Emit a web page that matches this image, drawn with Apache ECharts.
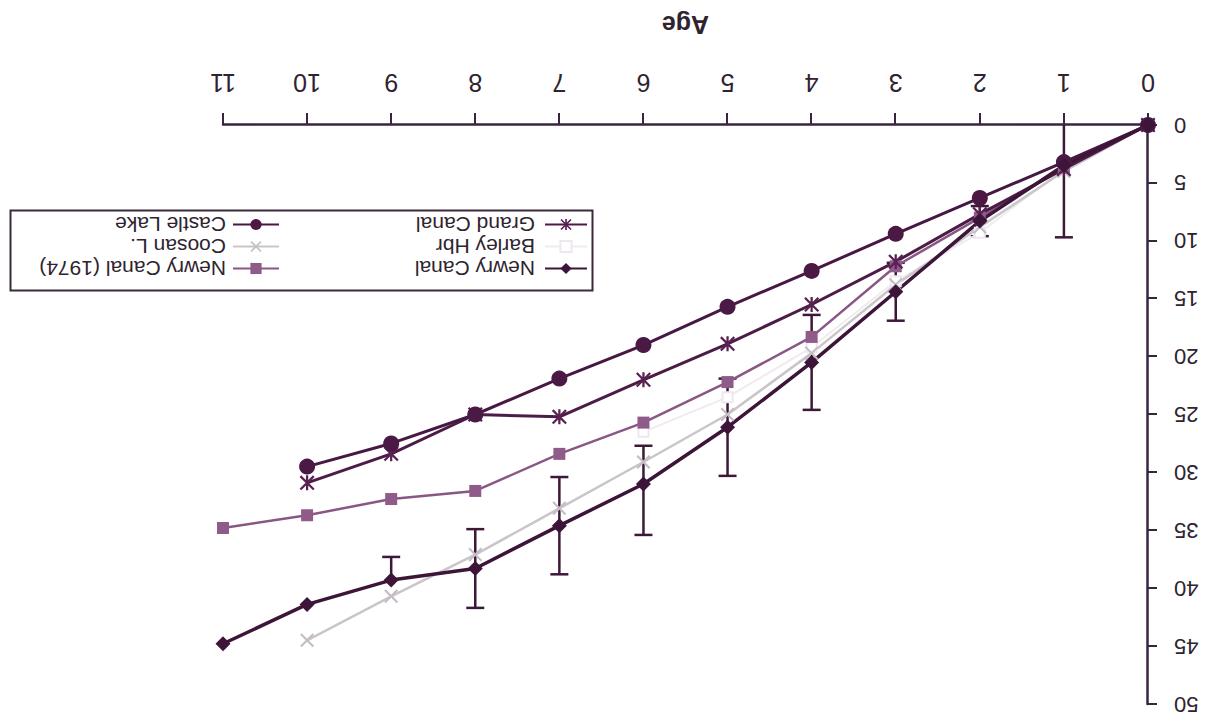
<!DOCTYPE html>
<html>
<head>
<meta charset="utf-8">
<script src="https://cdn.jsdelivr.net/npm/echarts@6/dist/echarts.min.js"></script>
<style>
  html, body { margin: 0; padding: 0; background: #ffffff; overflow: hidden; }
  #main { width: 1211px; height: 724px; transform: rotate(180deg); transform-origin: 50% 50%; }
</style>
</head>
<body>
<div id="main"></div>
<script>
// ---- data ----
const ages = [0, 1, 2, 3, 4, 5, 6, 7, 8, 9, 10, 11];
const xTicks = [0, 1, 2, 3, 4, 5, 6, 7, 8, 9, 10, 11];
const yTicks = [0, 5, 10, 15, 20, 25, 30, 35, 40, 45, 50];

const newryCanal     = [0, 3.5, 8.3, 14.4, 20.5, 26.1, 31.0, 34.6, 38.3, 39.3, 41.4, 44.8];
const barleyHbr      = [0, 3.8, 9.3, 13.5, 19.2, 23.5, 26.5, null, null, null, null, null];
const grandCanal     = [0, 3.8, 7.7, 11.8, 15.5, 18.9, 22.0, 25.2, 25.0, 28.4, 30.9, null];
const newryCanal1974 = [0, 3.7, 8.0, 12.2, 18.3, 22.2, 25.7, 28.4, 31.6, 32.3, 33.7, 34.8];
const coosanL        = [0, 4.0, 8.8, 13.8, 19.7, 25.0, 29.1, 33.1, 37.1, 40.7, 44.5, null];
const castleLake     = [0, 3.2, 6.3, 9.4, 12.6, 15.7, 19.0, 21.9, 25.0, 27.5, 29.5, null];

// error bars of Newry Canal (toward smaller / toward larger values)
const newryErrLow  = [0, 6.2, 1.3, 2.5, 4.1, 4.2, 3.3, 4.2, 3.4, 2.0, 0, 0];
const newryErrHigh = [0, 6.2, 1.3, 2.5, 4.1, 4.2, 4.4, 4.2, 3.4, 0, 0, 0];

// ---- styles ----
const FONT = '"Liberation Sans", Arial, sans-serif';
const AXIS_COLOR = '#3a2440';
const TEXT_COLOR = '#2e2430';
const ASTERISK = 'path://M6.8,0L9.2,0L9.2,16L6.8,16Z M1.7,0L16,14.3L14.3,16L0,1.7Z M14.3,0L16,1.7L1.7,16L0,14.3Z';
const CROSS = 'path://M1.7,0L16,14.3L14.3,16L0,1.7Z M14.3,0L16,1.7L1.7,16L0,14.3Z';

function pairs(vals) {
  return ages.map((a, i) => [a, vals[i]]);
}

const errData = ages.map((a, i) => {
  const v = newryCanal[i];
  return [a, Math.max(0, v - newryErrLow[i]), v + newryErrHigh[i], v];
}).filter((d, i) => newryErrLow[i] > 0 || newryErrHigh[i] > 0);

function lineSeries(name, vals, color, width, symbol, size, symbolColor) {
  return {
    name: name,
    type: 'line',
    data: pairs(vals),
    connectNulls: false,
    symbol: symbol,
    symbolSize: size,
    showSymbol: symbol !== 'none',
    lineStyle: { color: color, width: width },
    itemStyle: { color: symbolColor || color },
    emphasis: { disabled: true },
    z: 3
  };
}

const chart = echarts.init(document.getElementById('main'), null, { renderer: 'svg' });

const option = {
  backgroundColor: '#ffffff',
  animation: false,
  textStyle: { fontFamily: FONT },
  grid: { left: 63, right: 223, top: 20, bottom: 125 },
  xAxis: {
    type: 'value',
    min: xTicks[0],
    max: xTicks[xTicks.length - 1],
    interval: 1,
    name: 'Age',
    nameLocation: 'middle',
    nameGap: 88,
    nameTextStyle: { fontSize: 25, fontWeight: 'bold', color: TEXT_COLOR, fontFamily: FONT },
    axisLine: { show: true, lineStyle: { color: AXIS_COLOR, width: 2.5 } },
    axisTick: { show: true, inside: false, length: 12, lineStyle: { color: AXIS_COLOR, width: 2 } },
    axisLabel: { margin: 30, fontSize: 25, color: TEXT_COLOR, fontFamily: FONT },
    splitLine: { show: false }
  },
  yAxis: {
    type: 'value',
    min: yTicks[0],
    max: yTicks[yTicks.length - 1],
    interval: 5,
    axisLine: { show: true, lineStyle: { color: AXIS_COLOR, width: 2.5 } },
    axisTick: { show: true, inside: false, length: 9, lineStyle: { color: AXIS_COLOR, width: 2 } },
    axisLabel: { margin: 26, fontSize: 22, color: TEXT_COLOR, fontFamily: FONT },
    splitLine: { show: false }
  },
  legend: [
    {
      orient: 'vertical',
      left: 618, top: 440,
      padding: 5,
      itemWidth: 42, itemHeight: 14, itemGap: 1,
      data: ['Newry Canal', 'Barley Hbr', 'Grand Canal'],
      textStyle: { fontSize: 21, color: TEXT_COLOR, fontFamily: FONT, padding: [0, 0, 0, 5] },
      selectedMode: false
    },
    {
      orient: 'vertical',
      left: 926, top: 440,
      padding: 5,
      itemWidth: 46, itemHeight: 14, itemGap: 1,
      data: ['Newry Canal (1974)', 'Coosan L.', 'Castle Lake'],
      textStyle: { fontSize: 21, color: TEXT_COLOR, fontFamily: FONT, padding: [0, 0, 0, 2] },
      selectedMode: false
    }
  ],
  graphic: [
    {
      type: 'rect',
      left: 616, top: 431,
      shape: { width: 582, height: 80 },
      style: { fill: 'none', stroke: '#3a2a3a', lineWidth: 2 },
      silent: true
    }
  ],
  series: [
    {
      name: 'errNewry',
      type: 'custom',
      data: errData,
      encode: { x: 0, y: [1, 2] },
      z: 2,
      silent: true,
      renderItem: function (params, api) {
        const x = api.value(0);
        const lo = api.value(1);
        const hi = api.value(2);
        const v = api.value(3);
        const pLo = api.coord([x, lo]);
        const pHi = api.coord([x, hi]);
        const hw = 9;
        const st = { stroke: '#3d1838', lineWidth: 2.5 };
        const children = [
          { type: 'line', shape: { x1: pLo[0], y1: pLo[1], x2: pHi[0], y2: pHi[1] }, style: st }
        ];
        if (lo > 0 && lo < v) {
          children.push({ type: 'line', shape: { x1: pLo[0] - hw, y1: pLo[1], x2: pLo[0] + hw, y2: pLo[1] }, style: st });
        }
        if (hi > v) {
          children.push({ type: 'line', shape: { x1: pHi[0] - hw, y1: pHi[1], x2: pHi[0] + hw, y2: pHi[1] }, style: st });
        }
        return { type: 'group', children: children };
      }
    },
    lineSeries('Barley Hbr', barleyHbr, '#f0ebf0', 2, 'emptyRect', 10, '#eee8ee'),
    lineSeries('Coosan L.', coosanL, '#cac5ca', 2.5, CROSS, 14, '#c4bec4'),
    lineSeries('Newry Canal (1974)', newryCanal1974, '#8a5784', 2.5, 'rect', 12, '#8f5c8a'),
    lineSeries('Grand Canal', grandCanal, '#4c1c46', 3, ASTERISK, 15, '#5a2252'),
    lineSeries('Castle Lake', castleLake, '#471843', 3, 'circle', 16, '#4a1a45'),
    lineSeries('Newry Canal', newryCanal, '#3d1538', 3.5, 'diamond', 15, '#3d1538')
  ]
};

chart.setOption(option);
</script>
</body>
</html>
